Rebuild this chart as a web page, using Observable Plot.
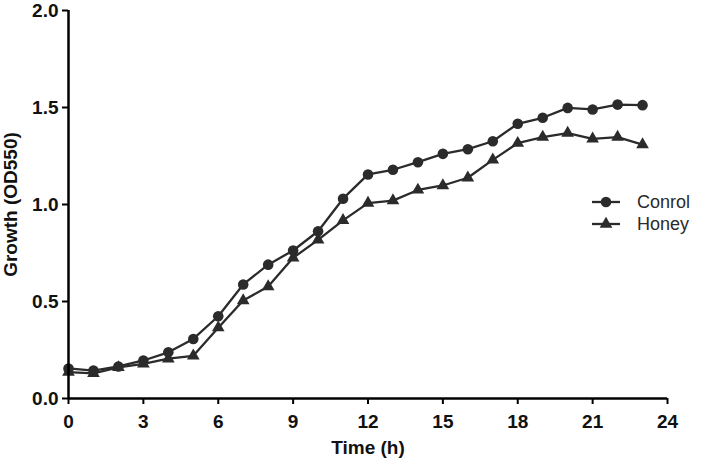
<!DOCTYPE html>
<html><head><meta charset="utf-8">
<script src="https://cdn.jsdelivr.net/npm/d3@7"></script>
<script src="https://cdn.jsdelivr.net/npm/@observablehq/plot@0.6"></script>
<style>
body{margin:0;background:#fff;}
#wrap{position:relative;width:701px;height:465px;}
#legend{position:absolute;left:588px;top:189px;}
</style></head><body><div id="wrap"><div id="legend"></div></div>
<script>
const hours = [0,1,2,3,4,5,6,7,8,9,10,11,12,13,14,15,16,17,18,19,20,21,22,23];
const control = [0.155,0.144,0.165,0.196,0.238,0.307,0.424,0.588,0.69,0.763,0.862,1.03,1.155,1.179,1.218,1.261,1.285,1.326,1.416,1.447,1.498,1.49,1.515,1.512];
const honey = [0.136,0.13,0.16,0.179,0.205,0.22,0.365,0.505,0.577,0.725,0.818,0.918,1.007,1.02,1.075,1.098,1.138,1.23,1.316,1.347,1.368,1.338,1.347,1.309];
const seriesNames = ["Conrol","Honey"];
const seriesSymbols = ["circle","triangle"];
const xTicks = [0,3,6,9,12,15,18,21,24];
const yTicks = [0,0.5,1.0,1.5,2.0];

const ink = "#2b2b2b";
const rows = [];
[control, honey].forEach((vals, i) => vals.forEach((v, j) => rows.push({t: hours[j], v, series: seriesNames[i]})));
const ctrlRows = rows.filter(d => d.series === seriesNames[0]);
const honeyRows = rows.filter(d => d.series === seriesNames[1]);

const font = "'Liberation Sans', Arial, sans-serif";
const chart = Plot.plot({
  width: 701, height: 465,
  marginLeft: 68, marginRight: 34, marginTop: 10, marginBottom: 67,
  style: {fontFamily: font, fontSize: "19px", fontWeight: "bold", color: "#111", background: "#fff"},
  x: {domain: [0, 24]},
  y: {domain: [0, 2]},
  marks: [
    Plot.line(rows, {x: "t", y: "v", z: "series", stroke: ink, strokeWidth: 2.3}),
    Plot.dot(ctrlRows, {x: "t", y: "v", symbol: seriesSymbols[0], fill: ink, r: 5.3}),
    Plot.dot(honeyRows, {x: "t", y: "v", symbol: seriesSymbols[1], fill: ink, r: 4.7}),
    Plot.axisX({ticks: xTicks, tickSize: 6, tickPadding: 10, strokeWidth: 2, stroke: "#000", fontSize: 19, label: "Time (h)", labelAnchor: "center", labelArrow: false, labelOffset: 55}),
    Plot.axisY({ticks: yTicks, tickFormat: d3.format(".1f"), tickSize: 6, tickPadding: 4, strokeWidth: 2, stroke: "#000", fontSize: 19, label: "Growth (OD550)", labelAnchor: "center", labelArrow: false, labelOffset: 65}),
    Plot.ruleX([0], {stroke: "#000", strokeWidth: 2.5}),
    Plot.ruleY([0], {stroke: "#000", strokeWidth: 2.5})
  ]
});
document.getElementById("wrap").prepend(chart);

// legend
const lg = d3.select("#legend").append("svg").attr("width", 112).attr("height", 48)
  .style("font-family", font).style("font-size", "18px");
seriesNames.forEach((name, i) => {
  const cy = 13 + i * 22;
  const g = lg.append("g").attr("transform", `translate(0,${cy})`);
  g.append("line").attr("x1", 4).attr("x2", 32).attr("stroke", ink).attr("stroke-width", 2.3);
  g.append("path").attr("transform", "translate(18,0)")
    .attr("d", d3.symbol(seriesSymbols[i] === "circle" ? d3.symbolCircle : d3.symbolTriangle, i === 0 ? 88 : 70)())
    .attr("fill", ink);
  g.append("text").attr("x", 49).attr("y", 0).attr("dy", "0.35em").attr("fill", "#2a2a2a").text(name);
});
</script>
</body></html>
